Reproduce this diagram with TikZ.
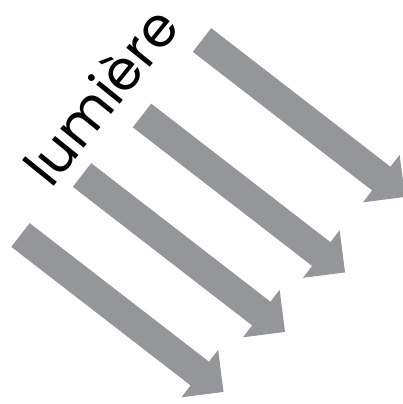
\documentclass[tikz,border=0pt]{standalone}
\usepackage{fontspec}
\setmainfont{Poppins}
\definecolor{arrowgrey}{RGB}{149,150,154}
\tikzset{
  bigarrow/.style={fill=arrowgrey, draw=none},
  label/.style={font=\fontsize{55}{60}\selectfont, text=black, inner sep=0pt, rotate=51}
}
\newcommand{\grarrow}[1]{%
  \begin{scope}[shift={#1}, rotate=-37.7]
    \fill[bigarrow] (0,15) -- (226.6,15) -- (226.6,30) -- (256.6,0) -- (226.6,-30) -- (226.6,-15) -- (0,-15) -- cycle;
  \end{scope}}
\begin{document}
\begin{tikzpicture}[x=1pt,y=-1pt]
  \useasboundingbox (0,0) rectangle (402,404);
  \grarrow{(202,40)}
  \grarrow{(142,115.5)}
  \grarrow{(82,175)}
  \grarrow{(20.5,235)}
  \node[label, anchor=base west] (t) at (51,190) {lumière};
\end{tikzpicture}
\end{document}
